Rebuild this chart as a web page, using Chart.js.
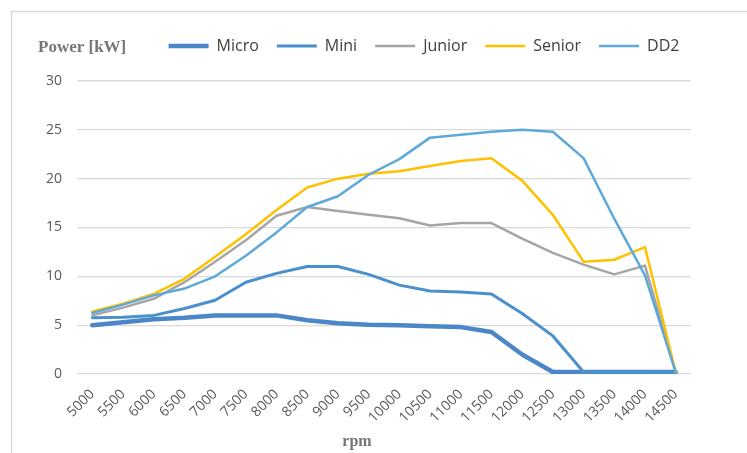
<!DOCTYPE html>
<html>
<head>
<meta charset="utf-8">
<script src="https://cdn.jsdelivr.net/npm/chart.js@4"></script>
<style>
  html, body { margin: 0; padding: 0; background: #fff; }
</style>
</head>
<body>
<canvas id="powerChart" width="747" height="453"></canvas>
<script>
const rpm = ["5000", "5500", "6000", "6500", "7000", "7500", "8000", "8500", "9000", "9500",
             "10000", "10500", "11000", "11500", "12000", "12500", "13000", "13500", "14000", "14500"];
const micro  = [5.0, 5.3, 5.6, 5.75, 6.0, 6.0, 6.0, 5.5, 5.2, 5.05, 5.0, 4.9, 4.8, 4.3, 2.0, 0.2, 0.2, 0.2, 0.2, 0.2];
const mini   = [5.75, 5.8, 6.0, 6.7, 7.55, 9.4, 10.3, 11.0, 11.0, 10.2, 9.1, 8.5, 8.4, 8.2, 6.2, 3.9, 0.2, 0.2, 0.2, 0.2];
const junior = [6.0, 6.8, 7.7, 9.4, 11.5, 13.7, 16.2, 17.1, 16.7, 16.3, 15.95, 15.2, 15.45, 15.45, 13.85, 12.4, 11.2, 10.2, 11.1, 0.2];
const senior = [6.4, 7.2, 8.2, 9.75, 12.0, 14.3, 16.8, 19.1, 20.0, 20.5, 20.75, 21.3, 21.8, 22.1, 19.8, 16.3, 11.5, 11.7, 13.0, 0.2];
const dd2    = [6.25, 7.1, 8.05, 8.75, 10.0, 12.1, 14.5, 17.1, 18.2, 20.4, 22.0, 24.2, 24.5, 24.8, 25.0, 24.8, 22.1, 15.9, 10.1, 0.2];

const tickFont = { family: "'Open Sans', sans-serif", size: 14 };

function line(label, data, color, width, order) {
    return {
        label: label,
        data: data,
        borderColor: color,
        backgroundColor: color,
        borderWidth: width,
        pointRadius: 0,
        tension: 0,
        borderJoinStyle: "round",
        borderCapStyle: "round",
        order: order
    };
}

// frame + axis titles sit where Excel put them
const decorations = {
    id: "decorations",
    beforeDraw(chart) {
        const ctx = chart.ctx;
        ctx.save();
        ctx.strokeStyle = "#d9d9d9";
        ctx.lineWidth = 1.5;
        ctx.beginPath();
        ctx.moveTo(11.5, 460);
        ctx.lineTo(11.5, 11.5);
        ctx.lineTo(760, 11.5);
        ctx.stroke();
        ctx.restore();
    },
    afterDraw(chart) {
        const ctx = chart.ctx;
        ctx.save();
        ctx.fillStyle = "#767676";
        ctx.textBaseline = "middle";
        ctx.font = "bold 17px 'Liberation Serif', serif";
        ctx.textAlign = "left";
        ctx.fillText("Power [kW]", 38, 48);
        ctx.font = "bold 16px 'Liberation Serif', serif";
        ctx.textAlign = "center";
        ctx.fillText("rpm", 357, 442);
        ctx.restore();
    }
};

// legend goes right of the y title, and a bit higher than its box
const shiftLegend = {
    id: "shiftLegend",
    afterLayout(chart) {
        const lg = chart.legend;
        lg.left += 90;
        lg.right = chart.width;
        lg.top -= 17;
        lg.bottom -= 17;
    }
};

const ctx = document.getElementById("powerChart").getContext("2d");

let chart = new Chart(ctx, {
    type: "line",
    data: {
        labels: rpm,
        datasets: [
            line("Micro", micro, "#4A86C8", 4.5, 5),
            line("Mini", mini, "#4A90CC", 3, 4),
            line("Junior", junior, "#A5A5A5", 2.5, 3),
            line("Senior", senior, "#FFC000", 2.5, 2),
            line("DD2", dd2, "#5DA9DA", 2.5, 1)
        ]
    },
    options: {
        responsive: false,
        animation: false,
        layout: { padding: { left: 11, right: 56, top: 37, bottom: 0 } },
        plugins: {
            legend: {
                position: "top",
                labels: {
                    usePointStyle: true,
                    pointStyle: "line",
                    pointStyleWidth: 40,
                    boxHeight: 16,
                    padding: 18,
                    color: "#404040",
                    font: { family: "'Open Sans', sans-serif", size: 16 },
                    sort: (a, b) => a.datasetIndex - b.datasetIndex
                }
            },
            tooltip: { enabled: false }
        },
        scales: {
            x: {
                offset: true,
                grid: { display: false },
                border: { display: false },
                ticks: {
                    color: "#595959",
                    font: tickFont,
                    minRotation: 45,
                    maxRotation: 45,
                    autoSkip: false,
                    padding: 4
                },
                afterFit(scale) { scale.height = 79; }
            },
            y: {
                min: 0,
                max: 30,
                grid: { color: "#d9d9d9", lineWidth: 1.3, drawTicks: false },
                border: { display: false },
                ticks: { stepSize: 5, color: "#595959", font: tickFont, padding: 15 },
                afterFit(scale) { scale.width = 66; }
            }
        }
    },
    plugins: [decorations, shiftLegend]
});
</script>
</body>
</html>
